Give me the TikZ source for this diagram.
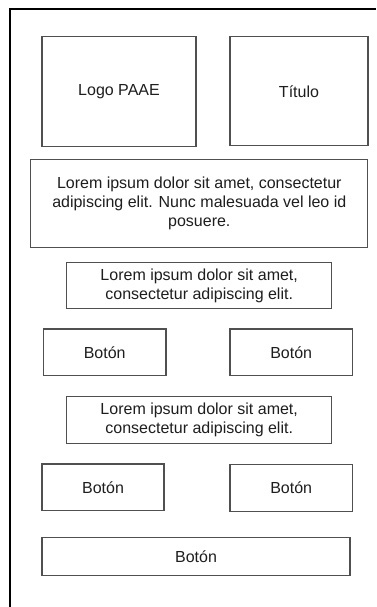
\documentclass[tikz,border=0pt]{standalone}
\usepackage{fontspec}
\setmainfont{Liberation Sans}
\definecolor{boxgray}{HTML}{505050}
\definecolor{inkgray}{HTML}{1E1E1E}
\begin{document}
\begin{tikzpicture}[x=1pt,y=-1pt,
  box/.style={draw=boxgray, line width=1.3pt, fill=white, inner sep=0pt,
    align=center, text=inkgray, font=\fontsize{16}{19}\selectfont},
  frameline/.style={draw=black, line width=2.2pt}]
\useasboundingbox (0,0) rectangle (376,607);
% page frame (left and top edges)
\coordinate (fbl) at (10,607);
\coordinate (ftl) at (10,9);
\coordinate (ftr) at (376,9);
\draw[frameline] (fbl) -- (ftl) -- (ftr);
% header
\node[box, minimum width=154pt, minimum height=110pt] (logo) at (119,91.7) {Logo PAAE};
\node[box, minimum width=138pt, minimum height=109pt] (titulo) at (299,91.2) {Título};
% intro text
\node[box, minimum width=337pt, minimum height=88pt] (intro) at (199.3,203.3)
  {Lorem ipsum dolor sit amet, consectetur\\adipiscing elit. Nunc malesuada vel leo id\\posuere.};
% first group
\node[box, minimum width=265pt, minimum height=45.6pt] (txta) at (199.2,285.5)
  {Lorem ipsum dolor sit amet,\\consectetur adipiscing elit.};
\node[box, minimum width=122.7pt, minimum height=46.3pt] (btna) at (104.7,352.2) {Botón};
\node[box, minimum width=122.3pt, minimum height=46.3pt] (btnb) at (291.2,352.2) {Botón};
% second group
\node[box, minimum width=265pt, minimum height=46.6pt] (txtb) at (199.2,420)
  {Lorem ipsum dolor sit amet,\\consectetur adipiscing elit.};
\node[box, minimum width=122pt, minimum height=46.7pt] (btnc) at (103,487.3) {Botón};
\node[box, minimum width=122.3pt, minimum height=46.6pt] (btnd) at (291.2,488) {Botón};
% wide button
\node[box, minimum width=308pt, minimum height=38pt] (btne) at (196,556.3) {Botón};
\end{tikzpicture}
\end{document}
